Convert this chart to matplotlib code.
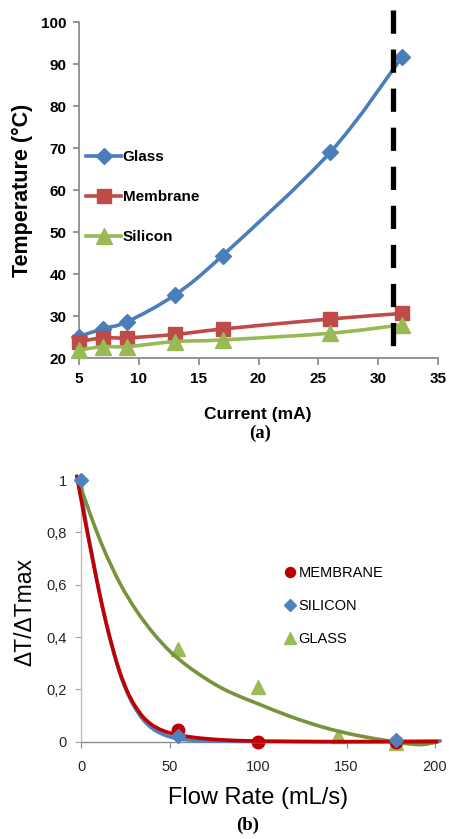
import matplotlib
matplotlib.use("Agg")
import matplotlib.pyplot as plt
from matplotlib.path import Path
from matplotlib.patches import PathPatch
from matplotlib.lines import Line2D

# ---------------- panel (a) data ----------------
current_mA = [5, 7, 9, 13, 17, 26, 32]
glass_temp = [25.1, 27.0, 28.6, 35.0, 44.4, 69.0, 91.7]
membrane_temp = [23.9, 24.8, 24.8, 25.6, 26.9, 29.3, 30.6]
silicon_temp = [21.9, 22.7, 22.7, 23.9, 24.3, 25.9, 27.9]
limit_current = 31.2
a_xticks = [5, 10, 15, 20, 25, 30, 35]
a_yticks = [20, 30, 40, 50, 60, 70, 80, 90, 100]

# ---------------- panel (b) data ----------------
mem_flow = [55, 100, 178]
mem_dt = [0.045, 0.0, 0.0]
sil_flow = [0, 55, 178]
sil_dt = [1.0, 0.02, 0.005]
gla_flow = [55, 100, 145, 178]
gla_dt = [0.355, 0.21, 0.02, -0.005]

# trend lines
mem_fit_x = [-2.4, 2, 6, 10, 14, 18, 22, 26, 30, 35, 40, 45, 50, 55, 62, 70, 80, 95, 120, 150, 201]
mem_fit_y = [1.015, 0.855, 0.715, 0.58, 0.46, 0.355, 0.265, 0.195, 0.143, 0.095, 0.065, 0.046,
             0.034, 0.026, 0.018, 0.012, 0.007, 0.003, 0.001, 0.0, 0.0]
sil_fit_x = [0, 2, 6, 10, 14, 18, 22, 26, 30, 35, 40, 45, 50, 55, 62, 70, 80, 100, 150, 203]
sil_fit_y = [1.0, 0.87, 0.725, 0.585, 0.46, 0.352, 0.26, 0.19, 0.135, 0.085, 0.052, 0.032,
             0.019, 0.011, 0.006, 0.003, 0.002, 0.001, 0.0, 0.003]
gla_fit_x = [-1.5, 5, 12.6, 22, 31.4, 40.8, 50.3, 60, 70, 80, 90, 100, 118, 137, 156, 175, 185, 193, 202]
gla_fit_y = [1.0, 0.873, 0.74, 0.605, 0.50, 0.415, 0.345, 0.29, 0.243, 0.203, 0.172, 0.145,
             0.097, 0.055, 0.024, 0.002, -0.008, -0.011, 0.0]
b_xticks = [0, 50, 100, 150, 200]
b_yticks = [0, 0.2, 0.4, 0.6, 0.8, 1.0]
b_yticklabels = ["0", "0,2", "0,4", "0,6", "0,8", "1"]


def smooth_path(xs, ys):
    """Catmull-Rom style smoothed line through the given points (like a spreadsheet 'smoothed line')."""
    pts = list(zip(xs, ys))
    n = len(pts)
    verts = [pts[0]]
    codes = [Path.MOVETO]
    for i in range(n - 1):
        p0 = pts[i - 1] if i > 0 else pts[i]
        p1 = pts[i]
        p2 = pts[i + 1]
        p3 = pts[i + 2] if i + 2 < n else pts[i + 1]
        c1 = (p1[0] + (p2[0] - p0[0]) / 6, p1[1] + (p2[1] - p0[1]) / 6)
        c2 = (p2[0] - (p3[0] - p1[0]) / 6, p2[1] - (p3[1] - p1[1]) / 6)
        verts += [c1, c2, p2]
        codes += [Path.CURVE4] * 3
    return Path(verts, codes)


def add_smooth(ax, xs, ys, color, lw, zorder):
    patch = PathPatch(smooth_path(xs, ys), fill=False, edgecolor=color, lw=lw,
                      capstyle="round", joinstyle="round", zorder=zorder)
    patch.set_clip_on(False)
    ax.add_patch(patch)


W, H = 449, 839
fig = plt.figure(figsize=(W / 100, H / 100), dpi=100)
SANS = ["Liberation Sans", "DejaVu Sans"]
SERIF = ["Liberation Serif", "DejaVu Serif"]

# ---------------- panel (a) ----------------
ax1 = fig.add_axes([79 / W, 1 - 358 / H, 359 / W, 336 / H])
c_glass, c_mem, c_sil = "#4A7EBB", "#BE4B48", "#98B954"
series_a = [
    (glass_temp, c_glass, "D", 7.8, "Glass"),
    (membrane_temp, c_mem, "s", 10.5, "Membrane"),
    (silicon_temp, c_sil, "^", 11, "Silicon"),
]
handles_a = []
for k, (vals, col, mk, ms, lab) in enumerate(series_a):
    add_smooth(ax1, current_mA, vals, col, 2.6, 3 + k * 0.1)
    ax1.plot(current_mA, vals, ls="none", marker=mk, ms=ms, color=col,
             clip_on=False, zorder=3.05 + k * 0.1)
    handles_a.append(Line2D([], [], color=col, lw=2.6, marker=mk, ms=ms, label=lab))
ax1.plot([limit_current, limit_current], [102.9, 21.2], color="black", lw=3.8,
         dashes=(4.4, 3.0), clip_on=False, zorder=5)
ax1.set_xlim(5, 35)
ax1.set_ylim(20, 100)
ax1.set_xticks(a_xticks)
ax1.set_yticks(a_yticks)
for s in ["top", "right"]:
    ax1.spines[s].set_visible(False)
for s in ["left", "bottom"]:
    ax1.spines[s].set_color("#8C8C8C")
    ax1.spines[s].set_linewidth(1.3)
ax1.tick_params(axis="both", direction="out", color="#8C8C8C", width=1.3)
ax1.tick_params(axis="x", length=5, pad=5)
ax1.tick_params(axis="y", length=4, pad=5)
for lab in ax1.get_xticklabels() + ax1.get_yticklabels():
    lab.set_fontfamily(SANS)
    lab.set_fontweight("bold")
    lab.set_fontsize(11)
ax1.legend(handles=handles_a, loc="upper left", bbox_to_anchor=(86 / W, 1 - 150 / H),
           bbox_transform=fig.transFigure, frameon=False, borderpad=0,
           borderaxespad=0, handlelength=2.3, handletextpad=0.1,
           labelspacing=1.7, prop={"family": SANS, "weight": "bold", "size": 11})
fig.text(22 / W, 1 - 190 / H, "Temperature (°C)", rotation=90, ha="center", va="center",
         fontfamily=SANS, fontweight="bold", fontsize=15.5)
fig.text(258 / W, 1 - 414 / H, "Current (mA)", ha="center", va="center",
         fontfamily=SANS, fontweight="bold", fontsize=12.5)
fig.text(260 / W, 1 - 433 / H, "(a)", ha="center", va="center",
         fontfamily=SERIF, fontweight="bold", fontsize=13.5)

# ---------------- panel (b) ----------------
ax2 = fig.add_axes([81 / W, 1 - 741.7 / H, 354 / W, 261.7 / H])
cm, cs, cg = "#C00000", "#4F81BD", "#9BBB59"
ax2.plot(gla_flow, gla_dt, ls="none", marker="^", ms=10, color=cg,
         label="GLASS", clip_on=False, zorder=2)
ax2.plot(mem_flow, mem_dt, ls="none", marker="o", ms=9, color=cm,
         label="MEMBRANE", clip_on=False, zorder=2)
add_smooth(ax2, sil_fit_x, sil_fit_y, cs, 2.6, 3)
add_smooth(ax2, gla_fit_x, gla_fit_y, "#77933C", 2.6, 3.1)
add_smooth(ax2, mem_fit_x, mem_fit_y, cm, 2.6, 3.5)
ax2.plot(sil_flow, sil_dt, ls="none", marker="D", ms=7.5, color=cs,
         label="SILICON", clip_on=False, zorder=4)
ax2.set_xlim(0, 200)
ax2.set_ylim(0, 1)
ax2.set_xticks(b_xticks)
ax2.set_yticks(b_yticks)
ax2.set_yticklabels(b_yticklabels)
for s in ["top", "right"]:
    ax2.spines[s].set_visible(False)
ax2.spines["left"].set_color("#BFBFBF")
ax2.spines["bottom"].set_color("#8C8C8C")
ax2.spines["left"].set_linewidth(1.0)
ax2.spines["bottom"].set_linewidth(1.0)
ax2.tick_params(axis="y", direction="out", length=4, color="#A6A6A6", pad=6)
ax2.tick_params(axis="x", direction="out", length=4, color="#8C8C8C", pad=9)
for lab in ax2.get_xticklabels() + ax2.get_yticklabels():
    lab.set_fontfamily(SANS)
    lab.set_fontsize(10.5)
    lab.set_color("#262626")
h, l = ax2.get_legend_handles_labels()
order = [l.index("MEMBRANE"), l.index("SILICON"), l.index("GLASS")]
ax2.legend([h[i] for i in order], [l[i] for i in order], loc="upper left",
           bbox_to_anchor=(284 / W, 1 - 566 / H), bbox_transform=fig.transFigure,
           frameon=False, borderpad=0, borderaxespad=0, handlelength=0.8,
           handletextpad=0.2, labelspacing=1.3, markerscale=0.8,
           prop={"family": SANS, "size": 10.5})
fig.text(25 / W, 1 - 612 / H, "ΔT/ΔTmax", rotation=90, ha="center", va="center",
         fontfamily=SANS, fontsize=16.5)
fig.text(258 / W, 1 - 798 / H, "Flow Rate (mL/s)", ha="center", va="center",
         fontfamily=SANS, fontsize=17)
fig.text(248 / W, 1 - 825 / H, "(b)", ha="center", va="center",
         fontfamily=SERIF, fontweight="bold", fontsize=13.5)

fig.savefig("out.png", dpi=100)
